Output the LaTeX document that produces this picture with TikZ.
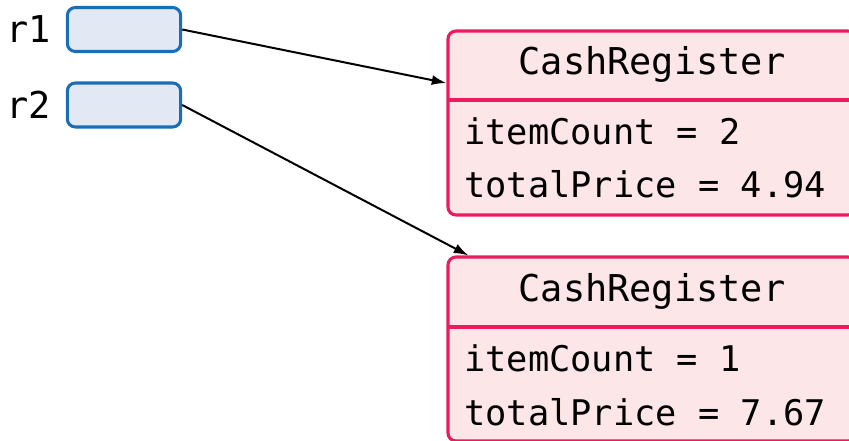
\documentclass[tikz,border=0pt]{standalone}
\usepackage{fontspec}
\setmonofont{DejaVu Sans Mono}
\usetikzlibrary{arrows.meta}

\definecolor{refblue}{HTML}{1A6EB6}
\definecolor{reffill}{HTML}{E2E8F4}
\definecolor{objred}{HTML}{EC1A5F}
\definecolor{objfill}{HTML}{FDE6E7}

\tikzset{
  mono/.style={font=\ttfamily\fontsize{26.5}{30}\selectfont, inner sep=0pt},
  bigmono/.style={font=\ttfamily\fontsize{27.7}{32}\selectfont, inner sep=0pt},
  refbox/.style={draw=refblue, fill=reffill, line width=2.3pt, rounded corners=6pt,
    minimum width=85pt, minimum height=33pt, inner sep=0pt},
  objbox/.style={draw=objred, fill=objfill, line width=2.3pt, rounded corners=6pt,
    minimum width=306pt, minimum height=138pt, inner sep=0pt},
}

\begin{document}
\begin{tikzpicture}[x=0.75pt, y=-0.75pt, >={Latex[length=11pt,width=7.5pt]}]
  \useasboundingbox (0,0) rectangle (849,441);

  % Variables
  \node[bigmono, anchor=base west] (r1) at (6,43) {r1};
  \node[bigmono, anchor=base west] (r2) at (6,119) {r2};
  \node[refbox] (r1box) at (124,29.5) {};
  \node[refbox] (r2box) at (124,105) {};

  % First object
  \node[objbox] (obj1) at (652,123) {};
  \draw[objred, line width=2.3pt] (448,100) -- (856,100);
  \node[bigmono, anchor=base] (obj1name) at (652,75) {CashRegister};
  \node[mono, anchor=base west] (obj1count) at (464,145) {itemCount = 2};
  \node[mono, anchor=base west] (obj1price) at (464,198) {totalPrice = 4.94};

  % Second object
  \node[objbox] (obj2) at (652,349) {};
  \draw[objred, line width=2.3pt] (448,327) -- (856,327);
  \node[bigmono, anchor=base] (obj2name) at (652,302) {CashRegister};
  \node[mono, anchor=base west] (obj2count) at (464,372) {itemCount = 1};
  \node[mono, anchor=base west] (obj2price) at (464,425) {totalPrice = 7.67};

  % References
  \draw[->, line width=1.5pt] (r1box.east) -- (obj1.169);
  \draw[->, line width=1.5pt] (r2box.east) -- (obj2.153);
\end{tikzpicture}
\end{document}
